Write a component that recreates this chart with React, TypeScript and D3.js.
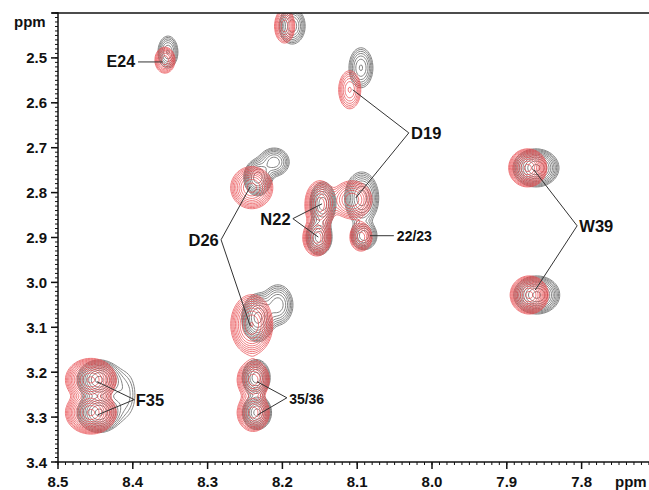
import React, { useMemo } from "react";
import * as d3 from "d3";

const W = 649;
const H = 490;

// Peaks: [x ppm, y ppm, sigma x (ppm), sigma y (ppm), amplitude]
const grayPeaks: number[][] = [
  [8.353, 2.487, 0.0074, 0.0198, 5],   // E24
  [8.187, 2.429, 0.0092, 0.0212, 6],   // top
  [8.095, 2.522, 0.0089, 0.0248, 5],   // D19 upper
  [8.094, 2.812, 0.0106, 0.027, 10],   // D19 lower
  [8.091, 2.896, 0.0085, 0.0153, 8],   // 22/23
  [8.146, 2.825, 0.0081, 0.0228, 10],  // N22 a
  [8.151, 2.899, 0.0081, 0.0187, 10],  // N22 b
  [8.233, 2.767, 0.0087, 0.0187, 10],  // D26 upper
  [8.211, 2.732, 0.0106, 0.0165, 6],   // D26 upper shoulder
  [8.233, 3.079, 0.0096, 0.024, 12],   // D26 lower
  [8.206, 3.05, 0.0106, 0.0235, 6],    // D26 lower shoulder
  [8.235, 3.212, 0.0087, 0.0187, 10],  // 35/36 a
  [8.234, 3.29, 0.0087, 0.017, 12],    // 35/36 b
  [8.445, 3.217, 0.0126, 0.0191, 15],  // F35 a
  [8.445, 3.29, 0.0126, 0.0191, 15],   // F35 b
  [8.41, 3.25, 0.0108, 0.0375, 2],     // F35 shoulder
  [7.861, 2.745, 0.0132, 0.0182, 15],  // W39 a
  [7.86, 3.028, 0.0132, 0.0182, 15],   // W39 b
];

const redPeaks: number[][] = [
  [8.357, 2.505, 0.0071, 0.0153, 6],
  [8.197, 2.429, 0.0071, 0.02, 6],
  [8.11, 2.571, 0.0082, 0.0236, 5],
  [8.107, 2.816, 0.0131, 0.0207, 8],
  [8.095, 2.899, 0.0078, 0.0165, 6],
  [8.15, 2.827, 0.0093, 0.0249, 10],
  [8.154, 2.901, 0.0087, 0.0187, 10],
  [8.241, 2.789, 0.0126, 0.021, 12],
  [8.241, 3.094, 0.0122, 0.029, 14],
  [8.239, 3.217, 0.01, 0.0195, 10],
  [8.239, 3.29, 0.01, 0.0195, 10],
  [8.456, 3.217, 0.0134, 0.0188, 25],
  [8.456, 3.29, 0.0134, 0.0188, 25],
  [7.872, 2.745, 0.0104, 0.0173, 20],
  [7.87, 3.028, 0.0104, 0.0173, 20],
];

const contourBase = 1;
const contourFactor = 1.3;
const contourCount = 18;

const xTicks = [8.5, 8.4, 8.3, 8.2, 8.1, 8.0, 7.9, 7.8];
const yTicks = [2.4, 2.5, 2.6, 2.7, 2.8, 2.9, 3.0, 3.1, 3.2, 3.3, 3.4];

// Annotation labels: [text, x ppm, y ppm, anchor, font size]
const labels: [string, number, number, string, number][] = [
  ["E24", 8.397, 2.509, "end", 16],
  ["D19", 8.028, 2.667, "start", 16.5],
  ["N22", 8.189, 2.858, "end", 16.5],
  ["22/23", 8.047, 2.896, "start", 14],
  ["D26", 8.285, 2.905, "end", 16.5],
  ["35/36", 8.191, 3.26, "start", 14],
  ["F35", 8.396, 3.261, "start", 16.5],
  ["W39", 7.803, 2.874, "start", 16.5],
];

// Leader lines: [from x, from y, to x, to y] in ppm
const leaders: number[][] = [
  [8.393, 2.509, 8.36, 2.509],
  [8.031, 2.667, 8.106, 2.571],
  [8.031, 2.667, 8.102, 2.812],
  [8.186, 2.858, 8.147, 2.825],
  [8.186, 2.858, 8.152, 2.899],
  [8.083, 2.896, 8.051, 2.896],
  [8.282, 2.905, 8.243, 2.787],
  [8.282, 2.905, 8.243, 3.097],
  [8.194, 3.257, 8.234, 3.221],
  [8.194, 3.257, 8.233, 3.295],
  [8.398, 3.261, 8.448, 3.221],
  [8.398, 3.261, 8.447, 3.295],
  [7.806, 2.874, 7.864, 2.749],
  [7.806, 2.874, 7.862, 3.017],
];

const FONT = "'Liberation Sans', Arial, sans-serif";

export default function App() {
  const x = d3.scaleLinear().domain([8.5, 7.7]).range([58, 656.4]);
  const y = d3.scaleLinear().domain([2.4, 3.4]).range([13, 462]);

  const { grayPaths, redPaths } = useMemo(() => {
    const step = 1.5;
    const gx0 = 50;
    const gy0 = 4;
    const nx = Math.ceil((662 - gx0) / step);
    const ny = Math.ceil((470 - gy0) / step);
    const levels = d3.range(contourCount).map((k) => contourBase * Math.pow(contourFactor, k));
    const build = (peaks: number[][]) => {
      const vals = new Float64Array(nx * ny);
      for (let j = 0; j < ny; j++) {
        const Y = y.invert(gy0 + j * step);
        for (let i = 0; i < nx; i++) {
          const X = x.invert(gx0 + i * step);
          let s = 0;
          for (const [px, py, sx, sy, a] of peaks) {
            const dx = (X - px) / sx;
            const dy = (Y - py) / sy;
            const e = dx * dx + dy * dy;
            if (e < 40) s += a * Math.exp(-0.5 * e);
          }
          vals[j * nx + i] = s;
        }
      }
      const cs = d3.contours().size([nx, ny]).thresholds(levels)(Array.from(vals));
      const proj = d3.geoTransform({
        point(px: number, py: number) {
          (this as any).stream.point(gx0 + (px - 0.5) * step, gy0 + (py - 0.5) * step);
        },
      });
      const path = d3.geoPath(proj);
      return cs.map((c) => path(c as any) || "");
    };
    return { grayPaths: build(grayPeaks), redPaths: build(redPeaks) };
  }, []);

  const minorX = d3.range(0, 81).map((k) => 8.5 - k * 0.01);
  const minorY = d3.range(0, 101).map((k) => 2.4 + k * 0.01);
  const axisColor = "#111";

  return (
    <svg width={W} height={H} style={{ display: "block", position: "absolute", left: 0, top: 0 }}>
      <defs>
        <clipPath id="plot">
          <rect x={58} y={13} width={W - 58} height={462 - 13} />
        </clipPath>
      </defs>
      <rect x={0} y={0} width={W} height={H} fill="#fff" />
      <g clipPath="url(#plot)" fill="none">
        {grayPaths.map((d, i) => (
          <path key={"g" + i} d={d} stroke="#666" strokeWidth={0.8} />
        ))}
        {redPaths.map((d, i) => (
          <path key={"r" + i} d={d} stroke="#e8464a" strokeWidth={0.8} strokeOpacity={0.9} />
        ))}
      </g>
      {/* leaders */}
      <g stroke="#333" strokeWidth={1}>
        {leaders.map((l, i) => (
          <line key={i} x1={x(l[0])} y1={y(l[1])} x2={x(l[2])} y2={y(l[3])} />
        ))}
      </g>
      <g fontFamily={FONT} fontWeight="bold" fill="#111">
        {labels.map(([t, lx, ly, anchor, size], i) => (
          <text key={i} x={x(lx)} y={y(ly)} textAnchor={anchor as any} dominantBaseline="central" fontSize={size}>
            {t}
          </text>
        ))}
      </g>
      {/* axes */}
      <g stroke={axisColor}>
        <line x1={52} y1={13} x2={W} y2={13} strokeWidth={1.5} />
        <line x1={58} y1={12.3} x2={58} y2={462.7} strokeWidth={1.5} />
        <line x1={58} y1={462} x2={W} y2={462} strokeWidth={1.5} />
        {minorX.map((v, i) => (
          <line key={"mx" + i} x1={x(v)} x2={x(v)} y1={462} y2={465} strokeWidth={1} />
        ))}
        {xTicks.map((v, i) => (
          <line key={"tx" + i} x1={x(v)} x2={x(v)} y1={462} y2={469} strokeWidth={1.5} />
        ))}
        {minorY.map((v, i) => (
          <line key={"my" + i} x1={55} x2={58} y1={y(v)} y2={y(v)} strokeWidth={1} />
        ))}
        {yTicks.map((v, i) => (
          <line key={"ty" + i} x1={51} x2={58} y1={y(v)} y2={y(v)} strokeWidth={1.5} />
        ))}
      </g>
      <g fontFamily={FONT} fontWeight="bold" fill="#111" fontSize={15}>
        {xTicks.map((v, i) => (
          <text key={"lx" + i} x={x(v)} y={487} textAnchor="middle">
            {v.toFixed(1)}
          </text>
        ))}
        {yTicks.slice(1).map((v, i) => (
          <text key={"ly" + i} x={47} y={y(v)} textAnchor="end" dominantBaseline="central">
            {v.toFixed(1)}
          </text>
        ))}
        <text x={14} y={27}>ppm</text>
        <text x={615} y={487}>ppm</text>
      </g>
    </svg>
  );
}
